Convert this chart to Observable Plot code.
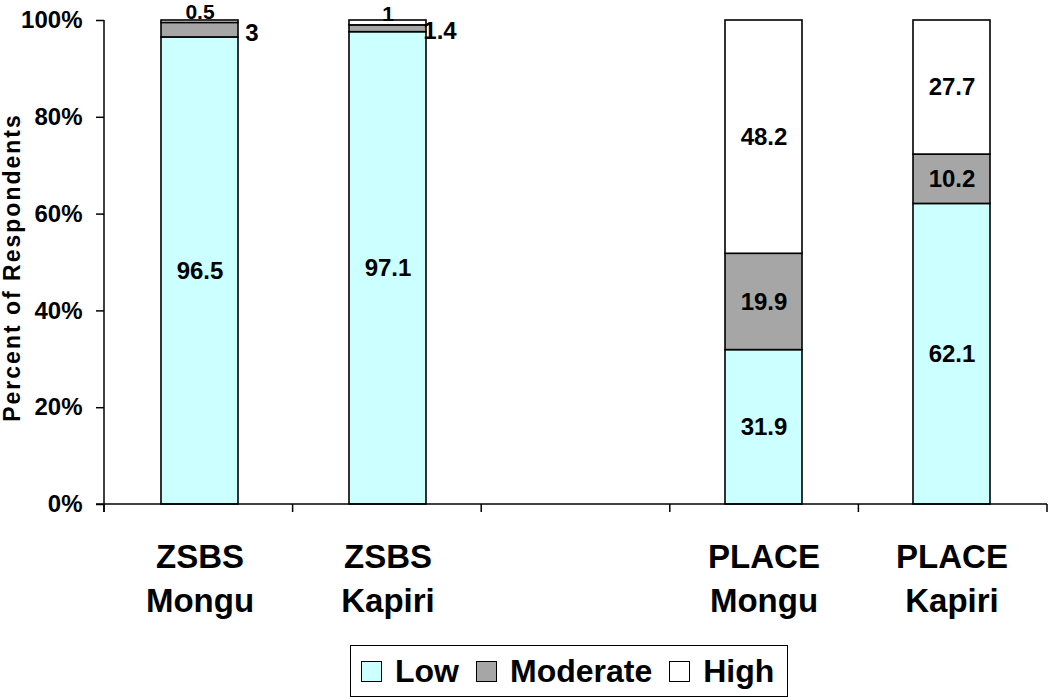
<!DOCTYPE html>
<html><head><meta charset="utf-8">
<script src="https://cdn.jsdelivr.net/npm/d3@7"></script>
<script src="https://cdn.jsdelivr.net/npm/@observablehq/plot@0.6"></script>
<style>
body{margin:0;background:#fff;font-family:"Liberation Sans",Arial,sans-serif;}
#wrap{position:relative;width:1050px;height:698px;}
#legend{position:absolute;left:350px;top:645px;width:438px;height:52px;border:1.5px solid #000;box-sizing:border-box;display:flex;align-items:center;font-weight:bold;font-size:32px;padding-left:10px;color:#000;}
.sw{width:21px;height:21px;border:1px solid #000;box-sizing:border-box;margin-right:13px;flex:none;}
.item{display:flex;align-items:center;margin-right:17px;}
</style></head>
<body><div id="wrap"><div id="chart"></div><div id="legend"></div></div>
<script>
const categories = ["ZSBS\nMongu", "ZSBS\nKapiri", " ", "PLACE\nMongu", "PLACE\nKapiri"];
const levels = ["Low", "Moderate", "High"];
const lowValues = [96.5, 97.1, null, 31.9, 62.1];
const moderateValues = [3, 1.4, null, 19.9, 10.2];
const highValues = [0.5, 1, null, 48.2, 27.7];
const levelColors = ["#ccffff", "#a6a6a6", "#ffffff"];
const yTicks = [0, 0.2, 0.4, 0.6, 0.8, 1];
const yTitle = "Percent of Respondents";

const rows = [];
categories.forEach((c, i) => {
  [lowValues, moderateValues, highValues].forEach((arr, j) => {
    if (arr[i] != null) rows.push({cat: c, level: levels[j], value: arr[i]});
  });
});

const st = (o) => Plot.stackY({x: "cat", y: "value", z: "level", order: levels, offset: "normalize", ...o});
const lbl = {fontSize: 24, fontWeight: "bold", fill: "black"};

const frameLines = (index, scales, values, dim) => {
  const g = d3.create("svg:g").attr("stroke", "black").attr("stroke-width", 1.5);
  const x0 = dim.marginLeft, x1 = dim.width - dim.marginRight;
  const y0 = dim.height - dim.marginBottom, yt = dim.marginTop;
  g.append("line").attr("x1", x0).attr("x2", x0).attr("y1", yt).attr("y2", y0 + 8);
  g.append("line").attr("x1", x0 - 8).attr("x2", x1).attr("y1", y0).attr("y2", y0);
  const n = categories.length;
  for (let i = 0; i <= n; i++) {
    const x = x0 + i * (x1 - x0) / n;
    g.append("line").attr("x1", x).attr("x2", x).attr("y1", y0).attr("y2", y0 + 8);
  }
  return g.node();
};

const chart = Plot.plot({
  width: 1050,
  height: 640,
  marginTop: 20,
  marginBottom: 136,
  marginLeft: 104,
  marginRight: 3,
  style: {fontFamily: "Liberation Sans, Arial, sans-serif", background: "white", color: "black"},
  x: {type: "band", domain: categories, paddingInner: 0.59, paddingOuter: 0.295, axis: null},
  y: {domain: [0, 1]},
  color: {domain: levels, range: levelColors},
  marks: [
    Plot.barY(rows, st({fill: "level", stroke: "black", strokeWidth: 1.6})),
    Plot.text(rows, st({text: d => d.value >= 5 ? String(d.value) : null, ...lbl})),
    Plot.text(rows, st({text: d => d.level === "High" && d.value < 5 ? String(d.value) : null, dy: -9, ...lbl, fontSize: 21})),
    Plot.text(rows, st({text: d => d.level === "Moderate" && d.value < 5 ? String(d.value) : null, dx: 52, dy: 3, ...lbl})),
    Plot.axisY({ticks: yTicks, tickFormat: d3.format(".0%"), tickSize: 8, tickPadding: 14, fontSize: 24, fontWeight: "bold", label: null, strokeWidth: 1.5}),
    Plot.text(categories.filter(c => c.trim()), {x: d => d, text: d => d, frameAnchor: "bottom", lineAnchor: "top", dy: 33, lineHeight: 1.32, fontSize: 33, fontWeight: "bold"}),
    Plot.text([yTitle], {frameAnchor: "left", textAnchor: "middle", dx: -92, dy: 5, rotate: -90, fontSize: 23, fontWeight: "bold"}),
    frameLines
  ]
});
d3.select(chart).selectAll("text").filter(function() { return this.textContent === yTitle; }).attr("letter-spacing", "2px");
document.getElementById("chart").appendChild(chart);

const legend = document.getElementById("legend");
levels.forEach((l, i) => {
  const item = document.createElement("div");
  item.className = "item";
  const sw = document.createElement("div");
  sw.className = "sw";
  sw.style.background = levelColors[i];
  const t = document.createElement("span");
  t.textContent = l;
  item.appendChild(sw);
  item.appendChild(t);
  legend.appendChild(item);
});
</script></body></html>
